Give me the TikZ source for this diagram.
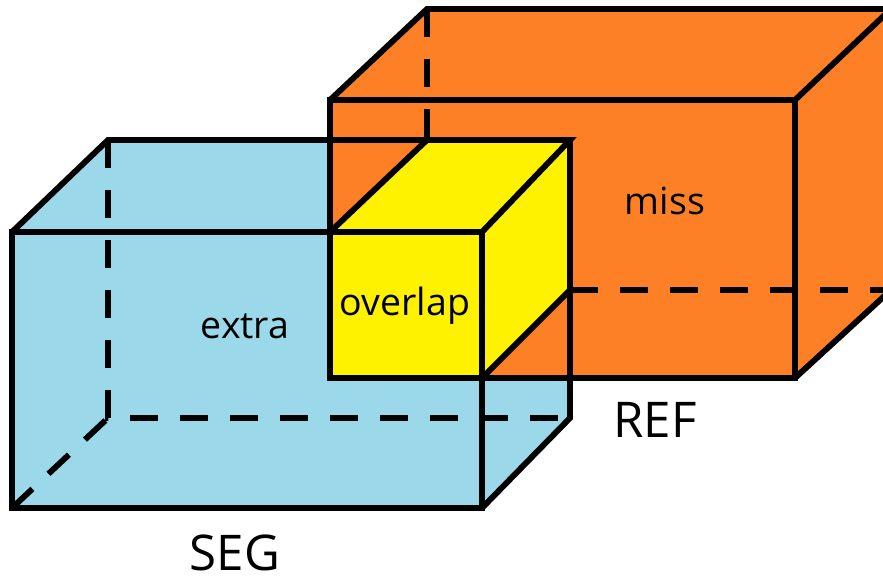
\documentclass[tikz,border=0pt]{standalone}
\usepackage{fontspec}
\setmainfont{Open Sans}
\definecolor{segblue}{RGB}{155,217,234}
\definecolor{reforange}{RGB}{253,128,39}
\definecolor{lapyellow}{RGB}{255,242,0}

\begin{document}
\begin{tikzpicture}[x=0.03cm,y=-0.03cm,
	edge/.style={line width=5pt},
	hidden/.style={edge, dash pattern=on 0.84cm off 0.66cm},
	tag/.style={font=\fontsize{32}{38}\selectfont},
	setname/.style={font=\fontsize{42}{48}\selectfont}]
	\useasboundingbox (0,0) rectangle (883,584);

	% SEG box corners (front, then back)
	\coordinate (s1) at (12,232);
	\coordinate (s2) at (482,232);
	\coordinate (s3) at (482,508);
	\coordinate (s4) at (12,508);
	\coordinate (s5) at (108,140);
	\coordinate (s6) at (570,140);
	\coordinate (s7) at (570,418);
	\coordinate (s8) at (108,418);

	% REF box corners
	\coordinate (r1) at (330,100);
	\coordinate (r2) at (795,100);
	\coordinate (r3) at (795,378);
	\coordinate (r4) at (330,378);
	\coordinate (r5) at (427,9);
	\coordinate (r6) at (891,9);
	\coordinate (r7) at (891,290);

	% overlap cube corners
	\coordinate (o1) at (330,232);
	\coordinate (o2) at (482,232);
	\coordinate (o3) at (482,378);
	\coordinate (o5) at (427,140);
	\coordinate (o6) at (570,140);
	\coordinate (o7) at (570,290);

	% fills, back to front
	\fill[segblue] (s4) -- (s1) -- (s5) -- (s6) -- (s7) -- (s3) -- cycle;
	\fill[reforange] (r4) -- (r1) -- (r5) -- (r6) -- (r7) -- (r3) -- cycle;
	\fill[lapyellow] (r4) -- (o1) -- (o5) -- (o6) -- (o7) -- (o3) -- cycle;

	% hidden edges
	\draw[hidden] (s5) -- (s8) -- (s7);
	\draw[hidden] (s4) -- (s8);
	\draw[hidden] (r5) -- (o5);
	\draw[hidden] (o7) -- (r7);

	% SEG edges
	\draw[edge] (s1) rectangle (s3);
	\draw[edge] (s1) -- (s5) -- (s6) -- (s2);
	\draw[edge] (s6) -- (s7) -- (s3);

	% REF edges
	\draw[edge] (r1) rectangle (r3);
	\draw[edge] (r1) -- (r5) -- (r6) -- (r2);
	\draw[edge] (r6) -- (r7) -- (r3);

	% overlap edges
	\draw[edge] (o1) -- (o5);
	\draw[edge] (o2) -- (o3) -- (o7);

	% labels
	\node[tag] (extra) at (245,326) {extra};
	\node[tag] (overlap) at (405,306) {overlap};
	\node[tag] (miss) at (665,201) {miss};
	\node[setname] (ref) at (655,420) {REF};
	\node[setname] (seg) at (235,553) {SEG};
\end{tikzpicture}
\end{document}
